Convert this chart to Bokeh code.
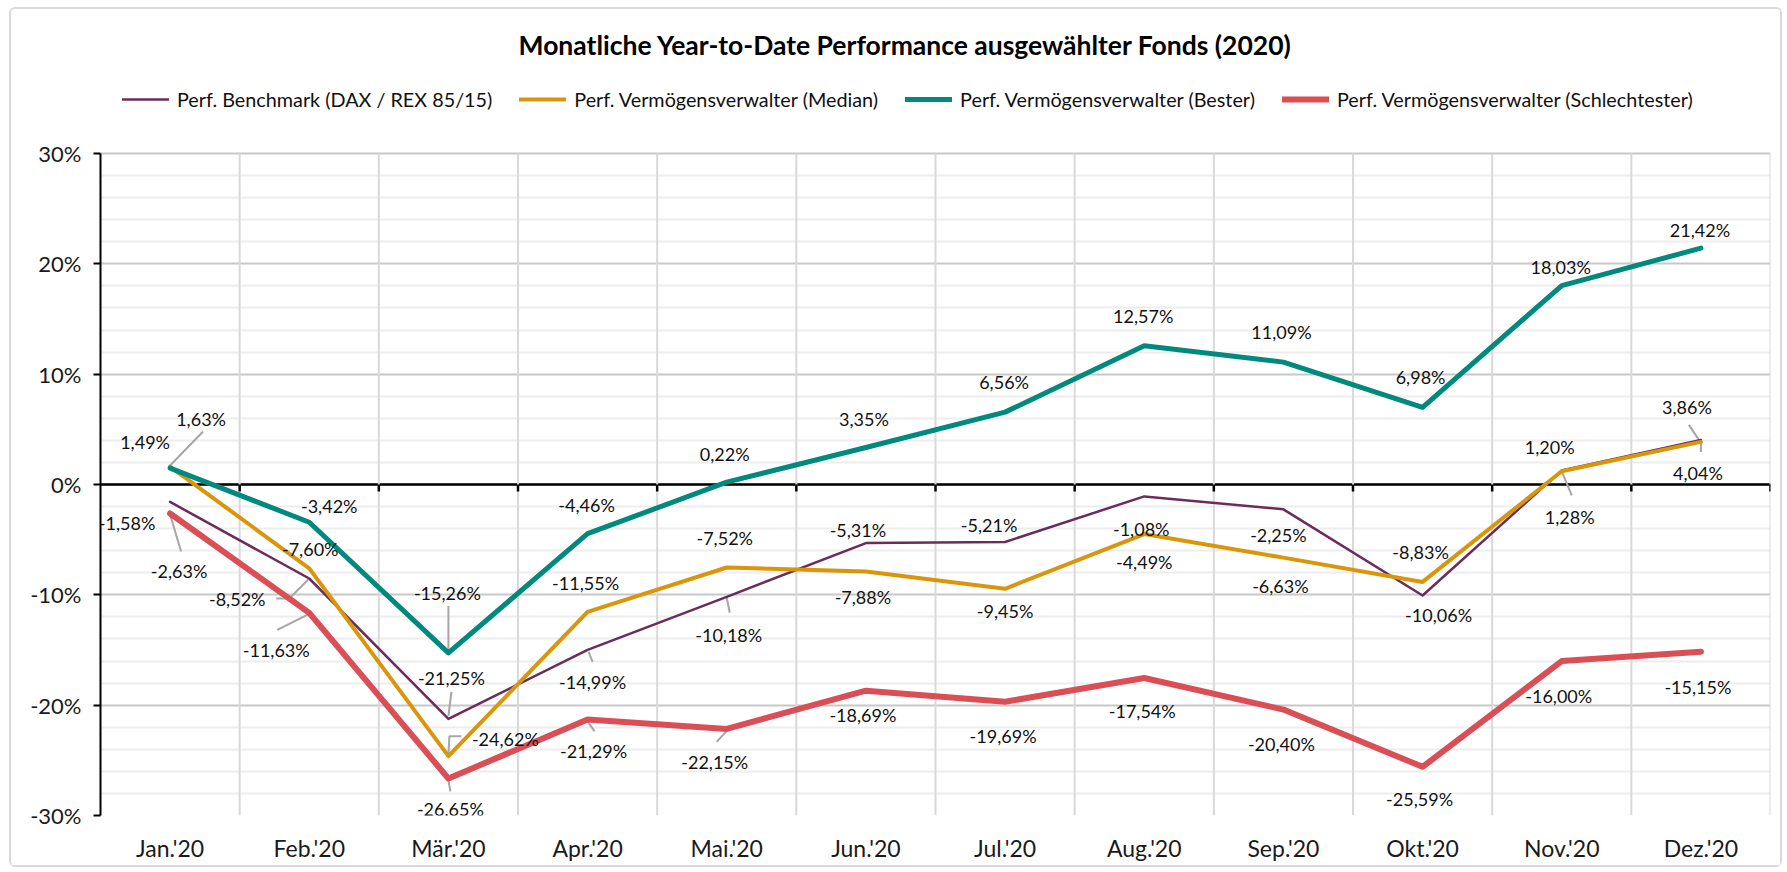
from bokeh.plotting import figure
from bokeh.models import (Range1d, FixedTicker, Span, Label, Legend, LegendItem,
                          ColumnDataSource, PrintfTickFormatter)
from bokeh.core.properties import value
from bokeh.embed import file_html
from bokeh.resources import INLINE

# ---------------- data ----------------
months = ["Jan.'20", "Feb.'20", "Mär.'20", "Apr.'20", "Mai.'20", "Jun.'20",
          "Jul.'20", "Aug.'20", "Sep.'20", "Okt.'20", "Nov.'20", "Dez.'20"]
benchmark = [-1.58, -8.52, -21.25, -14.99, -10.18, -5.31, -5.21, -1.08, -2.25, -10.06, 1.28, 4.04]
median = [1.63, -7.60, -24.62, -11.55, -7.52, -7.88, -9.45, -4.49, -6.63, -8.83, 1.20, 3.86]
best = [1.49, -3.42, -15.26, -4.46, 0.22, 3.35, 6.56, 12.57, 11.09, 6.98, 18.03, 21.42]
worst = [-2.63, -11.63, -26.65, -21.29, -22.15, -18.69, -19.69, -17.54, -20.40, -25.59, -16.00, -15.15]
y_ticks = [-30, -20, -10, 0, 10, 20, 30]
series_names = ["Perf. Benchmark (DAX / REX 85/15)",
                "Perf. Vermögensverwalter (Median)",
                "Perf. Vermögensverwalter (Bester)",
                "Perf. Vermögensverwalter (Schlechtester)"]
title_text = "Monatliche Year-to-Date Performance ausgewählter Fonds (2020)"

# ---------------- styles ----------------
colors = ["#6b2c5b", "#d9960a", "#00897d", "#da4f56"]
widths = [2.5, 4, 5, 6]
FONT = "Lato"

# label offsets in screen pixels (dx, dy; dy positive = down)
off_bench = [(-43, 21), (-72, 20), (3, -41), (5, 32), (2, 38), (-8, -13),
             (-16, -17), (-3, 33), (-5, 26), (16, 20), (8, 47), (-3, 33)]
off_median = [(31, -48), (1, -19), (57, -17), (-2, -29), (-2, -29), (-3, 26),
              (0, 22), (0, 28), (-3, 28), (-2, -30), (-12, -24), (-14, -35)]
off_best = [(-25, -26), (20, -16), (-1, -60), (-1, -29), (-2, -28), (-2, -29),
            (-1, -30), (-1, -30), (-2, -30), (-2, -30), (-1, -19), (-1, -18)]
off_worst = [(9, 57), (-33, 37), (2, 30), (6, 32), (-12, 33), (-3, 24),
             (-2, 34), (-2, 33), (-2, 34), (-3, 32), (-3, 35), (-3, 35)]

# leader lines: (series index, month index, list of pixel offsets from point)
leaders = [
    (2, 2, [(0, -47), (0, -3)]),
    (1, 0, [(0, -1), (33, -35)]),
    (1, 2, [(0, -2), (1, -20), (13, -20)]),
    (1, 11, [(-12, -17), (-2, -2)]),
    (0, 1, [(-1, 1), (-20, 20), (-33, 20)]),
    (0, 2, [(3, -27), (0, -3)]),
    (0, 3, [(1, 2), (5, 12)]),
    (0, 4, [(0, 1), (3, 16)]),
    (0, 10, [(0, 1), (10, 25)]),
    (0, 11, [(0, 2), (0, 12)]),
    (3, 0, [(0, 1), (11, 38)]),
    (3, 1, [(0, 1), (-32, 17)]),
    (3, 2, [(0, 2), (2, 13)]),
    (3, 3, [(0, 2), (7, 12)]),
    (3, 4, [(0, 2), (-10, 13)]),
]

# ---------------- layout ----------------
# canvas origin on the page: margin (9, 7) + 2px border
OX, OY = 11, 9
W, H = 1773, 860
FL = 100 - OX            # frame left
FW = 1670                # frame width
PT = 153 - OY            # y of the +30% line in canvas px
PB = 815 - OY            # y of the -30% line (frame bottom)
n = len(months)
xmin, xmax = 0, n
ymin, ymax = y_ticks[0], y_ticks[-1]
px_x = FW / (xmax - xmin)
px_y = (PB - PT) / (ymax - ymin)
ytop = ymax + PT / px_y  # frame reaches the canvas top so title/legend are not clipped

p = figure(width=W, height=H, x_range=Range1d(xmin, xmax), y_range=Range1d(ymin, ytop),
           output_backend="svg", toolbar_location=None,
           min_border_left=FL, min_border_top=0,
           min_border_right=W - FL - FW, min_border_bottom=H - PB)
p.styles = {"border": "2px solid #d9d9d9", "border-radius": "6px",
            "margin-left": "9px", "margin-top": "7px"}
p.background_fill_color = "white"
p.border_fill_color = "white"
p.outline_line_color = None

xc = [i + 0.5 for i in range(n)]

# axes
p.xaxis.ticker = FixedTicker(ticks=xc)
p.xaxis.major_label_overrides = {x: m for x, m in zip(xc, months)}
p.xaxis.axis_line_color = None
p.xaxis.major_tick_line_color = None
p.xaxis.minor_tick_line_color = None
p.xaxis.major_label_standoff = 12
p.xaxis.major_label_text_font = FONT
p.xaxis.major_label_text_font_size = "23px"
p.xaxis.major_label_text_color = "#1a1a1a"

p.yaxis.ticker = FixedTicker(ticks=y_ticks)
p.yaxis.bounds = (ymin, ymax)
p.yaxis.formatter = PrintfTickFormatter(format="%d%%")
p.yaxis.axis_line_color = "black"
p.yaxis.axis_line_width = 2
p.yaxis.major_tick_out = 7
p.yaxis.major_tick_in = 0
p.yaxis.major_tick_line_width = 2
p.yaxis.major_tick_line_color = "black"
p.yaxis.minor_tick_line_color = None
p.yaxis.major_label_standoff = 12
p.yaxis.major_label_text_font = FONT
p.yaxis.major_label_text_font_size = "22px"
p.yaxis.major_label_text_color = "#1a1a1a"

# grids
p.xgrid.grid_line_color = None
p.ygrid.ticker = FixedTicker(ticks=y_ticks,
                             minor_ticks=[v for v in range(ymin, ymax + 1, 2) if v % 10])
p.ygrid.grid_line_color = "#c8c8c8"
p.ygrid.grid_line_width = 2
p.ygrid.minor_grid_line_color = "#ededed"
p.ygrid.minor_grid_line_width = 2

# vertical gridlines at category boundaries (limited to the value range)
bounds_x = list(range(1, n + 1))
p.segment(x0=bounds_x, y0=[ymin] * n, x1=bounds_x, y1=[ymax] * n,
          line_color="#d9d9d9", line_width=2)

# zero axis line with ticks at category boundaries
p.add_layout(Span(location=0, dimension="width", line_color="black", line_width=2.5,
                  level="underlay"))
tick_len = 7 / px_y
p.segment(x0=bounds_x, y0=[0] * n, x1=bounds_x, y1=[-tick_len] * n,
          line_color="black", line_width=2.5)

# leader lines
all_series = [benchmark, median, best, worst]
lx, ly = [], []
for si, mi, pts in leaders:
    v = all_series[si][mi]
    lx.append([xc[mi] + dx / px_x for dx, dy in pts])
    ly.append([v - dy / px_y for dx, dy in pts])
p.multi_line(xs=lx, ys=ly, line_color="#a6a6a6", line_width=2)

# series lines
renderers = []
for vals, c, w in zip(all_series, colors, widths):
    r = p.line(xc, vals, line_color=c, line_width=w, line_join="round", line_cap="round")
    renderers.append(r)

# data labels
def fmt(v):
    return f"{v:.2f}".replace(".", ",") + "%"

offsets = [off_bench, off_median, off_best, off_worst]
tx, ty, tt, txo, tyo = [], [], [], [], []
for vals, offs in zip(all_series, offsets):
    for i, (v, (dx, dy)) in enumerate(zip(vals, offs)):
        tx.append(xc[i]); ty.append(v); tt.append(fmt(v)); txo.append(dx); tyo.append(dy)
src = ColumnDataSource(dict(x=tx, y=ty, text=tt, xo=txo, yo=tyo))
p.text(x="x", y="y", text="text", x_offset="xo", y_offset="yo", source=src,
       text_font=value(FONT), text_font_size="18px", text_align="center",
       text_baseline="middle", text_color="#111111")

# legend (inside the frame's top strip, above the value area)
legend = Legend(items=[LegendItem(label=nm, renderers=[r]) for nm, r in zip(series_names, renderers)],
                orientation="horizontal",
                location=(122 - 100, PB - (111 - OY)),
                padding=0, margin=0, spacing=27, glyph_width=47, glyph_height=20,
                label_standoff=8, label_height=20,
                label_text_font=FONT, label_text_font_size="19.8px", label_text_color="#111111",
                border_line_color=None, background_fill_alpha=0)
p.add_layout(legend)

# title
p.add_layout(Label(x=905 - 100, y=PB - (44 - OY), x_units="screen", y_units="screen",
                   text=title_text, text_font=FONT, text_font_style="bold",
                   text_font_size="26.5px", text_align="center", text_baseline="middle",
                   text_color="#000000"))

open("out.html", "w").write(file_html(p, INLINE))
